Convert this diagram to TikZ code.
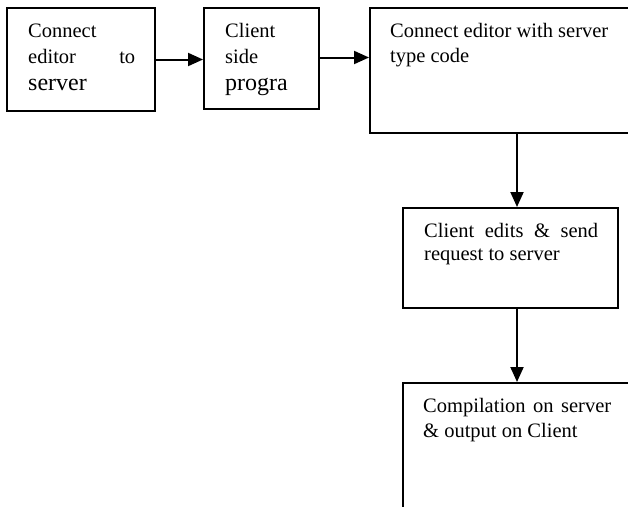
\documentclass[tikz,border=0pt]{standalone}
\usepackage{fontspec}
\setmainfont{Liberation Serif}
\usetikzlibrary{arrows.meta}
\tikzset{
  box/.style={draw, line width=2pt, rectangle, inner sep=0pt, anchor=north west},
  txt/.style={anchor=base west, inner sep=0pt, font=\fontsize{20.5}{24.6}\selectfont},
  arr/.style={line width=2pt, -{Triangle[length=15pt,width=13pt]}}
}
\begin{document}
\begin{tikzpicture}[x=1pt,y=-1pt]
\useasboundingbox (0,0) rectangle (628,506);
\fill[white] (0,0) rectangle (628,506);
\clip (0,0) rectangle (628,506);
% boxes
\node[box, minimum width=148pt, minimum height=103pt] (b1) at (6,7) {};
\node[box, minimum width=115pt, minimum height=101pt] (b2) at (203,7) {};
\node[box, minimum width=340pt, minimum height=125pt] (b3) at (369,7) {};
\node[box, minimum width=215pt, minimum height=100pt] (b4) at (402,207) {};
\node[box, minimum width=300pt, minimum height=180pt] (b5) at (402,382) {};
% texts
\node[txt] (t1) at (28,37) {\vtop{\baselineskip=26.5pt
  \hbox{Connect}
  \hbox to 107pt{editor\hfill to}
  \hbox{\fontsize{24}{26}\selectfont server}}};
\node[txt] (t2) at (225,37) {\vtop{\baselineskip=26.5pt
  \hbox{Client}
  \hbox{side}
  \hbox{\fontsize{24}{26}\selectfont progra}}};
\node[txt] (t3) at (390,37) {\vtop{\baselineskip=25pt
  \hbox{Connect editor with server}
  \hbox{type code}}};
\node[txt] (t4) at (424,237) {\vtop{\baselineskip=23.5pt
  \hbox to 174pt{Client\hfill edits\hfill \&\hfill send}
  \hbox{request to server}}};
\node[txt] (t5) at (423,412) {\vtop{\baselineskip=25pt
  \hbox to 188pt{Compilation\hfill on\hfill server}
  \hbox{\& output on Client}}};
% connectors
\coordinate (ax) at (517,0);
\draw[arr] (b1.east) -- (b1.east -| b2.west);
\draw[arr] ([yshift=1pt]b2.east) -- ([yshift=1pt]b2.east -| b3.west);
\draw[arr] (b3.south -| ax) -- (b4.north -| ax);
\draw[arr] (b4.south -| ax) -- (b5.north -| ax);
\end{tikzpicture}
\end{document}
